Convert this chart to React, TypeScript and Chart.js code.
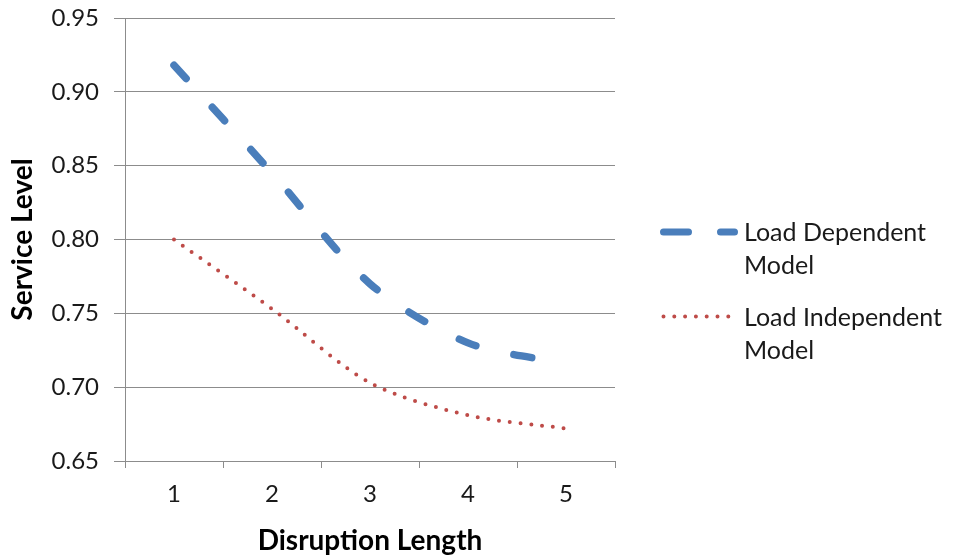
import React, { useEffect, useRef } from "react";
import { Chart, registerables } from "chart.js";

Chart.register(...registerables);

// Service level against disruption length for the two models
const disruptionLengths = ["1", "2", "3", "4", "5"];
const loadDependent = [0.918, 0.845, 0.77, 0.73, 0.716];
const loadIndependent = [0.8, 0.753, 0.703, 0.681, 0.672];
const seriesNames = ["Load Dependent Model", "Load Independent Model"];

const FONT = "Lato, 'Open Sans', sans-serif";
const TEXT = "#1a1a1a";
const GRID = "#8c8c8c";
const BLUE = "#4a7ebb";
const RED = "#be4b48";

// Legend swatches drawn in the right-hand margin, labels wrapped to fit
const sideLegend = {
  id: "sideLegend",
  afterDraw(chart: any) {
    const ctx: CanvasRenderingContext2D = chart.ctx;
    const swatches = [
      { width: 7, dash: [25, 32], y: 232, end: 734.5 },
      { width: 4, dash: [0, 10.8], y: 316.5, end: 729 },
    ];
    const textX = 744;
    const maxWidth = chart.width - textX - 2;
    ctx.save();
    ctx.font = `25px ${FONT}`;
    chart.data.datasets.forEach((ds: any, i: number) => {
      const s = swatches[i];
      ctx.beginPath();
      ctx.strokeStyle = ds.borderColor;
      ctx.lineWidth = s.width;
      ctx.lineCap = "round";
      ctx.setLineDash(s.dash);
      ctx.moveTo(663.5, s.y);
      ctx.lineTo(s.end, s.y);
      ctx.stroke();
      ctx.setLineDash([]);

      // word wrap
      const words = String(ds.label).split(" ");
      const lines: string[] = [];
      let cur = "";
      words.forEach((w) => {
        const test = cur ? cur + " " + w : w;
        if (ctx.measureText(test).width > maxWidth && cur) {
          lines.push(cur);
          cur = w;
        } else {
          cur = test;
        }
      });
      if (cur) lines.push(cur);
      ctx.fillStyle = TEXT;
      ctx.textAlign = "left";
      ctx.textBaseline = "alphabetic";
      lines.forEach((ln, k) => {
        ctx.fillText(ln, textX, s.y + 9 + k * 33);
      });
    });
    ctx.restore();
  },
};

export default function App() {
  const canvasRef = useRef<HTMLCanvasElement | null>(null);

  useEffect(() => {
    document.body.style.margin = "0";
    const canvas = canvasRef.current;
    if (!canvas) return;
    const chart = new Chart(canvas, {
      type: "line",
      data: {
        labels: disruptionLengths,
        datasets: [
          {
            label: seriesNames[0],
            data: loadDependent,
            borderColor: BLUE,
            borderWidth: 7.5,
            borderDash: [18, 39],
            borderCapStyle: "round",
            borderJoinStyle: "round",
            pointRadius: 0,
            tension: 0.3,
            fill: false,
          },
          {
            label: seriesNames[1],
            data: loadIndependent,
            borderColor: RED,
            borderWidth: 4,
            borderDash: [0, 10.8],
            borderCapStyle: "round",
            borderJoinStyle: "round",
            pointRadius: 0,
            tension: 0.3,
            fill: false,
          },
        ],
      },
      options: {
        responsive: false,
        animation: false,
        devicePixelRatio: 1,
        layout: { padding: { top: 18, right: 341, bottom: 0, left: 0 } },
        plugins: {
          legend: { display: false },
          tooltip: { enabled: false },
        },
        scales: {
          x: {
            offset: true,
            grid: {
              offset: true,
              drawOnChartArea: false,
              drawTicks: true,
              tickLength: 7,
              color: GRID,
            },
            border: { color: GRID },
            ticks: {
              color: TEXT,
              font: { family: FONT, size: 24 },
              padding: 12,
            },
            title: {
              display: true,
              text: "Disruption Length",
              color: "#000",
              font: { family: FONT, size: 28, weight: "bold" },
              padding: { top: 0, bottom: 0 },
            },
            afterFit(scale: any) {
              scale.height = 97;
              scale.paddingLeft = 0;
              scale.paddingRight = 0;
            },
          },
          y: {
            min: 0.65,
            max: 0.95,
            ticks: {
              stepSize: 0.05,
              color: TEXT,
              font: { family: FONT, size: 24 },
              padding: 15,
              callback: (v: any) => Number(v).toFixed(2),
            },
            grid: {
              color: GRID,
              tickLength: 11,
            },
            border: { color: GRID },
            title: {
              display: true,
              text: "Service Level",
              color: "#000",
              font: { family: FONT, size: 28, weight: "bold" },
              padding: { top: 6, bottom: 0 },
            },
            afterFit(scale: any) {
              scale.width = 125;
              scale.paddingTop = 0;
              scale.paddingBottom = 0;
            },
          },
        },
      },
      plugins: [sideLegend],
    });
    return () => chart.destroy();
  }, []);

  return (
    <div style={{ width: 956, height: 558, background: "#fff" }}>
      <canvas ref={canvasRef} width={956} height={558} />
    </div>
  );
}
